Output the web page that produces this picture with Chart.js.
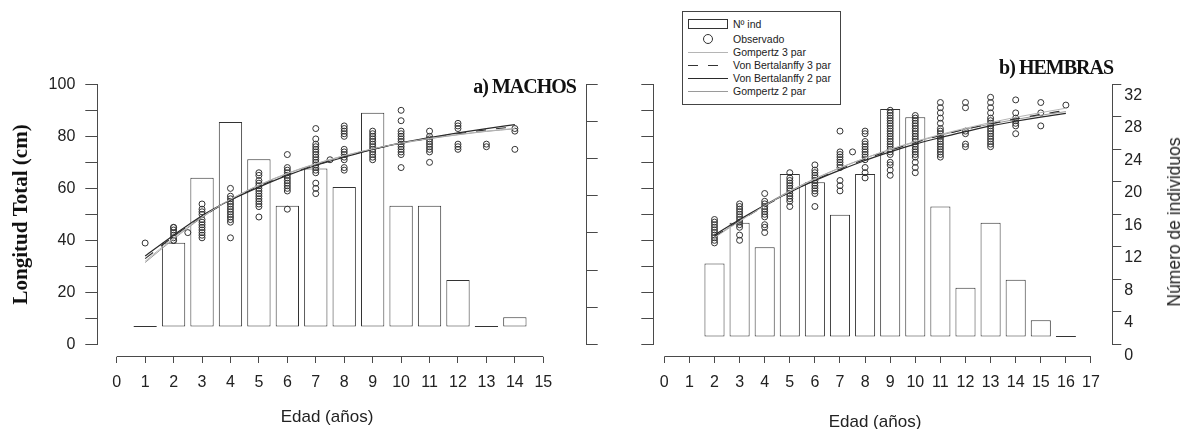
<!DOCTYPE html>
<html>
<head>
<meta charset="utf-8">
<script src="https://cdn.jsdelivr.net/npm/chart.js@4.4.0/dist/chart.umd.min.js"></script>
<style>
body { margin: 0; background: #fff; font-family: "Liberation Sans", Arial, sans-serif; color: #222; }
#wrap { position: relative; width: 1185px; height: 429px; overflow: hidden; }
canvas { position: absolute; top: 0; }
#cM { left: 0; }
#cH { left: 600px; }
.lbl { position: absolute; white-space: nowrap; }
.panel { font: bold 20px "Liberation Serif", serif; letter-spacing: -1px; text-align: right; line-height: 20px; width: 200px; color: #111; }
.xt { font-size: 17px; line-height: 20px; transform: translate(-50%, -50%); }
#ytH { font-size: 17.5px; line-height: 20px; transform: translate(-50%, -50%) rotate(-90deg); }
#legend { position: absolute; left: 682px; top: 11px; width: 157px; height: 92px; border: 1px solid #444; background: #fff; font-size: 10.5px; }
#legend .row { position: absolute; left: 0; height: 13px; line-height: 13px; }
#legend svg { position: absolute; left: 5px; top: 0; }
#legend span { position: absolute; left: 50px; top: 0; white-space: nowrap; }
</style>
</head>
<body>
<div id="wrap">
  <canvas id="cM" width="600" height="429"></canvas>
  <canvas id="cH" width="585" height="429"></canvas>
  <div class="lbl panel" style="left:376px; top:76px;">a) MACHOS</div>
  <div class="lbl panel" style="left:913px; top:57px;">b) HEMBRAS</div>
  <div class="lbl xt" style="left:327px; top:417px;">Edad (años)</div>
  <div class="lbl xt" style="left:875px; top:422px;">Edad (años)</div>
  <div class="lbl" id="ytH" style="left:1174px; top:222px;">Número de individuos</div>
  <div id="legend"></div>
</div>
<script>
// MACHOS
const xTicksM = [0,1,2,3,4,5,6,7,8,9,10,11,12,13,14,15];
const edadBarM = [1,2,3,4,5,6,7,8,9,10,11,12,13,14];
const nIndM = [0,9,16,22,18,13,17,15,23,13,13,5,0,1];
const edadObsM = [1,2,2.5,3,4,5,6,7,7.5,8,9,10,11,12,13,14];
const longObsM = [
    [39],
    [45,45,44,43,42,41,40,40],
    [43],
    [54,52,51,50,48,47,46,45,44,43,42,41],
    [60,57,56,55,54,53,52,51,50,49,48,47,41],
    [66,65,63,62,61,60,59,58,57,56,55,54,53,49],
    [73,68,67,66,65,64,63,62,61,60,59,52],
    [83,79,77,76,75,74,73,72,71,70,69,68,67,66,62,60,58],
    [71],
    [84,83,82,81,80,75,74,73,72,71,68,67],
    [82,81,80,79,78,77,76,75,74,73,72,71],
    [90,86,82,81,80,79,78,77,76,75,74,73,68],
    [82,80,79,78,77,76,75,74,70],
    [85,84,83,77,76,75],
    [77,76],
    [83,82,75]
];
const edadFitM = [1,2,3,4,5,6,7,8,9,10,11,12,13,14];
const gomp3M = [32.0,41.0,49.0,55.8,61.3,65.8,69.5,72.6,75.2,77.4,79.2,80.7,82.0,83.0];
const vb3M   = [33.0,41.5,49.0,55.5,60.8,65.2,69.0,72.2,75.0,77.3,79.3,81.0,82.5,83.7];
const vb2M   = [34.0,42.0,49.5,55.5,60.5,65.0,68.8,72.0,75.0,77.5,79.5,81.3,83.0,84.5];
const gomp2M = [31.5,40.5,48.8,55.7,61.2,65.7,69.4,72.5,75.1,77.3,79.1,80.6,81.9,82.9];

// HEMBRAS
const xTicksH = [0,1,2,3,4,5,6,7,8,9,10,11,12,13,14,15,16,17];
const edadBarH = [2,3,4,5,6,7,8,9,10,11,12,13,14,15,16];
const nIndH = [9,14,11,20,19,15,20,28,27,16,6,14,7,2,0];
const edadObsH = [2,3,4,5,6,7,7.5,8,9,10,11,12,13,14,15,16];
const longObsH = [
    [48,47,46,45,44,43,42,41,40,39],
    [54,53,52,51,50,49,48,47,46,45,42,40],
    [58,55,54,53,52,51,50,49,46,45,43],
    [66,64,63,62,61,60,59,58,57,56,55,53],
    [69,67,66,65,64,63,62,61,60,59,58,53],
    [82,74,73,72,71,70,69,68,63,61,59],
    [74],
    [82,81,78,77,76,75,74,73,72,71,68,66,64],
    [90,89,88,87,86,85,84,83,82,81,80,79,78,77,76,75,74,73,70,69,67,65],
    [88,87,86,85,84,83,82,81,80,79,78,77,76,75,74,73,72,70,68,66],
    [93,91,89,87,85,83,82,81,80,79,78,77,76,75,74,73,72],
    [93,91,82,81,77,76],
    [95,93,91,89,87,86,85,84,83,82,81,80,79,78,77,76],
    [94,89,87,86,85,84,81],
    [93,89,84],
    [92]
];
const edadFitH = [2,3,4,5,6,7,8,9,10,11,12,13,14,15,16];
const gomp3H = [41.0,47.3,53.3,58.8,63.6,67.8,71.6,75.0,78.0,80.7,83.1,85.3,87.3,89.1,90.8];
const vb3H   = [41.5,47.5,53.2,58.5,63.2,67.4,71.2,74.6,77.6,80.3,82.7,84.8,86.7,88.4,90.0];
const vb2H   = [42.0,48.0,53.5,58.5,63.0,67.0,70.7,74.0,77.0,79.5,81.8,84.0,85.8,87.4,88.8];
const gomp2H = [41.2,47.6,53.6,59.0,63.7,67.9,71.6,74.9,77.8,80.4,82.7,84.7,86.5,88.1,89.5];

const axisColor = "#4a4a4a";
const tickFont = { family: "Liberation Sans", size: 16 };

// draws the x axis line only between the first and last tick (R style)
const xAxisLine = {
    id: "xAxisLine",
    afterDraw(chart) {
        const s = chart.scales.x;
        const y = Math.round(chart.scales.yl.getPixelForValue(s.options.position.yl) - 0.5) + 0.5;
        const ctx = chart.ctx;
        ctx.save();
        ctx.strokeStyle = axisColor;
        ctx.lineWidth = 1;
        ctx.beginPath();
        ctx.moveTo(s.getPixelForValue(s.ticks[0].value), y);
        ctx.lineTo(s.getPixelForValue(s.ticks[s.ticks.length - 1].value), y);
        ctx.stroke();
        ctx.restore();
    }
};

function toPairs(xs, ys) {
    return xs.map((x, i) => ({ x: x, y: ys[i] }));
}

function obsPoints(ages, lists) {
    const pts = [];
    ages.forEach((a, i) => lists[i].forEach(v => pts.push({ x: a, y: v })));
    return pts;
}

function makeChart(id, p) {
    return new Chart(id, {
        type: "bar",
        data: {
            datasets: [
                { type: "bar", label: "Nº ind", data: toPairs(p.edadBar, p.nInd), yAxisID: "yb",
                  backgroundColor: "#ffffff", borderColor: "#333", borderWidth: 1, borderSkipped: false,
                  minBarLength: 1, categoryPercentage: 1, barPercentage: p.barPct, order: 3 },
                { type: "scatter", label: "Observado", data: obsPoints(p.edadObs, p.longObs), yAxisID: "yl",
                  pointStyle: "circle", pointRadius: 3, borderColor: "#333", borderWidth: 1,
                  backgroundColor: "rgba(0,0,0,0)", order: 2 },
                { type: "line", label: "Gompertz 3 par", data: toPairs(p.edadFit, p.gomp3), yAxisID: "yl",
                  borderColor: "#b5b5b5", borderWidth: 1, pointRadius: 0, cubicInterpolationMode: "monotone", order: 1 },
                { type: "line", label: "Von Bertalanffy 3 par", data: toPairs(p.edadFit, p.vb3), yAxisID: "yl",
                  borderColor: "#333", borderWidth: 1.2, borderDash: [10, 10], pointRadius: 0, cubicInterpolationMode: "monotone", order: 1 },
                { type: "line", label: "Von Bertalanffy 2 par", data: toPairs(p.edadFit, p.vb2), yAxisID: "yl",
                  borderColor: "#2a2a2a", borderWidth: 1.2, pointRadius: 0, cubicInterpolationMode: "monotone", order: 1 },
                { type: "line", label: "Gompertz 2 par", data: toPairs(p.edadFit, p.gomp2), yAxisID: "yl",
                  borderColor: "#9a9a9a", borderWidth: 1, pointRadius: 0, cubicInterpolationMode: "monotone", order: 1 }
            ]
        },
        options: {
            responsive: false,
            animation: false,
            devicePixelRatio: 1,
            layout: { padding: { left: 0, right: 0, top: 84.3, bottom: p.padBottom } },
            plugins: { legend: { display: false }, tooltip: { enabled: false } },
            scales: {
                x: {
                    type: "linear", min: p.xMin, max: p.xMax, offset: false,
                    position: { yl: p.xAxisAt },
                    border: { display: false },
                    grid: { drawOnChartArea: false, offset: false, tickLength: 6, color: axisColor },
                    ticks: { padding: 10, color: "#222", font: tickFont },
                    afterBuildTicks: s => { s.ticks = p.xTicks.map(v => ({ value: v })); }
                },
                yl: {
                    position: "left", min: 0, max: 100,
                    border: { color: axisColor },
                    grid: { drawOnChartArea: false, tickLength: p.ylTick, color: axisColor },
                    ticks: { stepSize: 10, display: p.ylLabels, padding: 10, color: "#222", font: tickFont,
                             callback: v => (v % 20 === 0 ? v : "") },
                    title: { display: p.ylLabels, text: "Longitud Total (cm)", color: "#111",
                             font: { family: "Liberation Serif", weight: "bold", size: 21 }, padding: { top: 9 } },
                    afterFit: s => { s.width = p.ylWidth; }
                },
                yr: {
                    position: "right", min: 0, max: p.nMax,
                    border: { color: axisColor },
                    grid: { drawOnChartArea: false, tickLength: p.yrTick, color: axisColor },
                    ticks: { stepSize: 4, display: p.yrLabels, padding: 3, labelOffset: 11, color: "#222", font: tickFont },
                    afterFit: s => { s.width = p.yrWidth; }
                },
                yb: { display: false, min: p.ybMin, max: p.ybMax }
            }
        },
        plugins: [xAxisLine]
    });
}

makeChart("cM", {
    edadBar: edadBarM, nInd: nIndM, edadObs: edadObsM, longObs: longObsM,
    edadFit: edadFitM, gomp3: gomp3M, vb3: vb3M, vb2: vb2M, gomp2: gomp2M, xTicks: xTicksM,
    barPct: 0.82, xMin: -0.682, xMax: 16.526, xAxisAt: -4.7, padBottom: 84.5,
    ylTick: 12, ylLabels: true, ylWidth: 97.3,
    nMax: 28, yrTick: 11, yrLabels: false, yrWidth: 13.3,
    ybMin: -1.937, ybMax: 26.063
});

const chartH = makeChart("cH", {
    edadBar: edadBarH, nInd: nIndH, edadObs: edadObsH, longObs: longObsH,
    edadFit: edadFitH, gomp3: gomp3H, vb3: vb3H, vb2: vb2H, gomp2: gomp2H, xTicks: xTicksH,
    barPct: 0.8, xMin: -0.438, xMax: 17.849, xAxisAt: -4.77, padBottom: 84.7,
    ylTick: 12, ylLabels: false, ylWidth: 53.3,
    nMax: 32, yrTick: 9, yrLabels: true, yrWidth: 72.7,
    ybMin: -0.96, ybMax: 31.04
});

// HTML legend built from the datasets of the right chart
const legendRows = [12.5, 27.5, 40.5, 53.5, 66.5, 79.5];
const legend = document.getElementById("legend");
chartH.data.datasets.forEach((ds, i) => {
    let sym;
    if (ds.type === "bar") {
        sym = '<rect x="0.5" y="1.5" width="39" height="9" fill="#fff" stroke="#333" stroke-width="1"/>';
    } else if (ds.type === "scatter") {
        sym = '<circle cx="20" cy="6" r="4.5" fill="none" stroke="#333" stroke-width="1"/>';
    } else {
        const dash = ds.borderDash ? ' stroke-dasharray="' + ds.borderDash.join(",") + '"' : "";
        sym = '<line x1="0" y1="6.5" x2="40" y2="6.5" stroke="' + ds.borderColor + '" stroke-width="' + ds.borderWidth + '"' + dash + '/>';
    }
    const row = document.createElement("div");
    row.className = "row";
    row.style.top = (legendRows[i] - 6.5) + "px";
    row.innerHTML = '<svg width="40" height="12">' + sym + '</svg><span>' + ds.label + '</span>';
    legend.appendChild(row);
});
</script>
</body>
</html>
